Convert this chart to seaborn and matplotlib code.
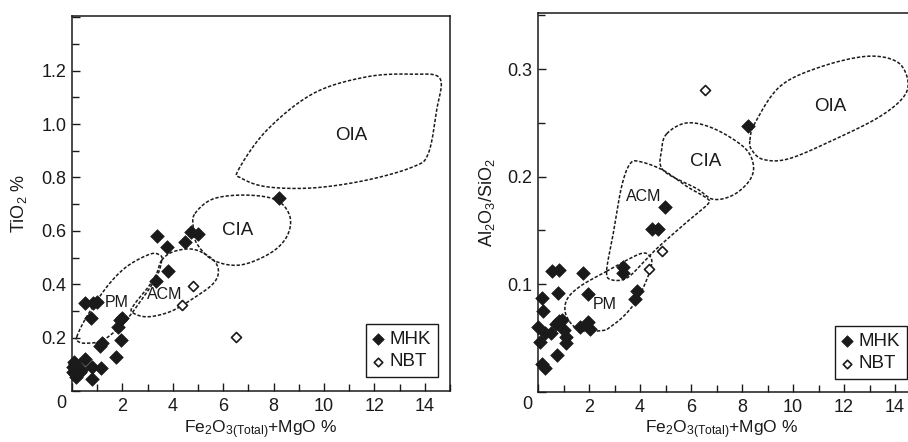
import numpy as np
import pandas as pd
import matplotlib
matplotlib.use("Agg")
import matplotlib.pyplot as plt
from matplotlib.ticker import MultipleLocator, FuncFormatter
import seaborn as sns

# ---------------- data ----------------
# Left panel: TiO2 vs Fe2O3(T)+MgO
left_mhk_x = [3.36, 3.78, 3.82, 3.32, 4.48, 4.72, 4.99, 8.21,
              0.52, 0.85, 0.98, 0.74, 1.18, 1.11, 1.90, 1.97, 1.84, 1.94, 1.73,
              0.52, 0.78, 1.15, 0.78,
              0.09, 0.16, 0.03, 0.22, 0.36, 0.16, 0.05, 0.12, 0.25, 0.30, 0.10]
left_mhk_y = [0.580, 0.540, 0.450, 0.413, 0.557, 0.594, 0.587, 0.722,
              0.331, 0.330, 0.334, 0.275, 0.180, 0.170, 0.266, 0.275, 0.240, 0.192, 0.128,
              0.120, 0.091, 0.086, 0.045,
              0.110, 0.091, 0.072, 0.066, 0.079, 0.054, 0.090, 0.100, 0.085, 0.070, 0.065]
left_nbt_x = [4.81, 4.38, 6.50]
left_nbt_y = [0.394, 0.322, 0.202]

# Right panel: Al2O3/SiO2 vs Fe2O3(T)+MgO
right_mhk_x = [4.98, 4.46, 4.69, 3.32, 3.35, 3.87, 3.82, 8.22,
               0.54, 0.84, 1.75, 0.77, 0.15, 0.21, 1.97, 0.01, 0.27, 0.50, 0.70,
               0.84, 0.93, 1.03, 1.10, 1.10, 1.65, 1.97, 2.04, 0.08, 0.73, 0.15, 0.27]
right_mhk_y = [0.172, 0.151, 0.151, 0.116, 0.110, 0.094, 0.086, 0.247,
               0.112, 0.113, 0.110, 0.092, 0.087, 0.075, 0.091, 0.060, 0.055, 0.055, 0.063,
               0.066, 0.067, 0.057, 0.051, 0.045, 0.060, 0.065, 0.058, 0.046, 0.034, 0.026, 0.022]
right_nbt_x = [4.86, 4.35, 6.55]
right_nbt_y = [0.131, 0.114, 0.281]

# tectonic-setting field outlines (control points of smooth closed curves)
left_oia_x = [6.60, 7.73, 9.58, 11.69, 13.54, 14.60, 14.47, 14.14, 13.54, 11.69, 9.58, 7.73, 6.73]
left_oia_y = [0.828, 0.977, 1.115, 1.177, 1.187, 1.171, 1.052, 0.890, 0.840, 0.790, 0.761, 0.765, 0.797]
left_cia_x = [4.88, 5.61, 6.93, 8.12, 8.65, 8.52, 7.86, 6.67, 5.61, 4.95, 4.81]
left_cia_y = [0.665, 0.720, 0.734, 0.715, 0.653, 0.578, 0.516, 0.472, 0.490, 0.553, 0.615]
left_acm_x = [3.56, 4.02, 4.81, 5.54, 5.81, 5.61, 4.81, 3.89, 2.96, 2.37, 2.50, 3.03, 3.36]
left_acm_y = [0.490, 0.522, 0.531, 0.497, 0.453, 0.403, 0.347, 0.297, 0.278, 0.297, 0.328, 0.390, 0.441]
left_pm_x = [0.19, 0.58, 1.38, 2.17, 3.10, 3.49, 3.56, 3.36, 2.70, 2.04, 1.24, 0.58, 0.25]
left_pm_y = [0.203, 0.278, 0.390, 0.466, 0.513, 0.509, 0.490, 0.428, 0.334, 0.254, 0.191, 0.179, 0.185]

right_oia_x = [8.31, 8.51, 9.49, 11.06, 12.89, 14.07, 14.50, 14.33, 13.41, 11.84, 9.88, 8.84, 8.38]
right_oia_y = [0.234, 0.250, 0.284, 0.302, 0.312, 0.307, 0.290, 0.274, 0.256, 0.237, 0.217, 0.216, 0.225]
right_cia_x = [5.05, 5.83, 6.87, 8.05, 8.44, 8.31, 7.66, 6.87, 6.22, 4.91, 4.85]
right_cia_y = [0.240, 0.250, 0.245, 0.228, 0.212, 0.197, 0.183, 0.179, 0.189, 0.206, 0.225]
right_acm_x = [3.61, 4.00, 4.91, 5.83, 6.62, 6.68, 6.09, 5.31, 4.65, 4.20, 3.50, 2.90, 2.69, 2.95, 3.28]
right_acm_y = [0.212, 0.214, 0.206, 0.191, 0.180, 0.175, 0.163, 0.147, 0.133, 0.122, 0.106, 0.104, 0.112, 0.147, 0.191]
right_pm_x = [2.69, 3.61, 4.13, 4.39, 4.46, 4.26, 3.87, 3.35, 2.82, 2.56, 1.65, 1.12, 1.12, 1.65]
right_pm_y = [0.112, 0.124, 0.129, 0.126, 0.119, 0.104, 0.085, 0.070, 0.060, 0.057, 0.057, 0.070, 0.085, 0.098]

left_labels = [("OIA", 11.1, 0.958, 13.5), ("CIA", 6.59, 0.603, 13.5),
               ("ACM", 3.69, 0.363, 11.5), ("PM", 1.77, 0.331, 11.5)]
right_labels = [("OIA", 11.45, 0.265, 13.5), ("CIA", 6.59, 0.214, 13.5),
                ("ACM", 4.13, 0.182, 11.5), ("PM", 2.63, 0.081, 11.5)]

# ---------------- style ----------------
sns.set_theme(style="ticks")
plt.rcParams["font.family"] = ["Liberation Sans", "DejaVu Sans"]
plt.rcParams["mathtext.fontset"] = "custom"
plt.rcParams["mathtext.rm"] = "Liberation Sans"
plt.rcParams["mathtext.it"] = "Liberation Sans:italic"
plt.rcParams["mathtext.bf"] = "Liberation Sans:bold"
INK = "#1a1a1a"


def smooth_closed(xs, ys, n=40):
    pts = np.column_stack([xs, ys]).astype(float)
    P = np.vstack([pts[-1], pts, pts[0], pts[1]])
    t = np.linspace(0, 1, n, endpoint=False)[:, None]
    segs = []
    for i in range(1, len(pts) + 1):
        p0, p1, p2, p3 = P[i - 1], P[i], P[i + 1], P[i + 2]
        segs.append(0.5 * ((2 * p1) + (-p0 + p2) * t
                           + (2 * p0 - 5 * p1 + 4 * p2 - p3) * t ** 2
                           + (-p0 + 3 * p1 - 3 * p2 + p3) * t ** 3))
    segs.append(segs[0][:1])
    c = np.vstack(segs)
    return c[:, 0], c[:, 1]


FIG_W, FIG_H = 908, 442
fig = plt.figure(figsize=(FIG_W / 100, FIG_H / 100), dpi=100)
L_BOX = (72, 16, 450, 391)       # left, top, right, bottom in pixels
R_BOX = (538, 13.3, 920.5, 391.7)


def add_ax(box):
    l, t, r, b = box
    return fig.add_axes([l / FIG_W, 1 - b / FIG_H, (r - l) / FIG_W, (b - t) / FIG_H])


axL = add_ax(L_BOX)
axR = add_ax(R_BOX)


def draw(ax, box, mx, my, nx, ny, fields, labels, ylim, ymaj, ymin, ymaxlab,
         ylabel, ylab_px, xlab_px, leg_anchor):
    l, t, r, b = box
    dm = pd.DataFrame({"x": mx, "y": my})
    dn = pd.DataFrame({"x": nx, "y": ny})
    for fx, fy in fields:
        cx, cy = smooth_closed(fx, fy)
        ax.plot(cx, cy, ls=(0, (2.2, 1.2)), lw=1.1, color=INK, zorder=1)
    sns.scatterplot(data=dm, x="x", y="y", ax=ax, marker="D", s=48, color=INK,
                    edgecolor=INK, linewidth=0.5, label="MHK", zorder=3,
                    clip_on=False)
    sns.scatterplot(data=dn, x="x", y="y", ax=ax, marker="D", s=26,
                    facecolor="white", edgecolor=INK, linewidth=1.2,
                    label="NBT", zorder=3, clip_on=False)
    for txt, x, y, fs in labels:
        ax.text(x, y, txt, ha="center", va="center", fontsize=fs, color=INK)
    ax.set_xlim(0, 15)
    ax.set_ylim(*ylim)
    ax.xaxis.set_major_locator(MultipleLocator(2))
    ax.xaxis.set_minor_locator(MultipleLocator(1))
    ax.yaxis.set_major_locator(MultipleLocator(ymaj))
    ax.yaxis.set_minor_locator(MultipleLocator(ymin))
    ax.xaxis.set_major_formatter(
        FuncFormatter(lambda v, p: "" if abs(v) < 1e-9 else f"{v:g}"))
    ax.yaxis.set_major_formatter(
        FuncFormatter(lambda v, p: "" if (abs(v) < 1e-9 or v > ymaxlab + 1e-9)
                      else f"{v:.1f}"))
    ax.tick_params(which="major", direction="in", length=6, width=1.0,
                   color=INK, labelsize=13, labelcolor=INK)
    ax.tick_params(which="minor", direction="in", length=5, width=1.0, color=INK)
    ax.tick_params(axis="x", which="major", pad=5)
    ax.tick_params(axis="y", which="major", pad=4)
    ax.tick_params(top=False, right=False, which="both")
    for sp in ax.spines.values():
        sp.set_visible(True)
        sp.set_linewidth(1.1)
        sp.set_color(INK)
    ax.annotate("0", xy=(0, 0), xycoords="axes fraction", xytext=(-4, -3),
                textcoords="offset points", ha="right", va="top",
                fontsize=13, color=INK)
    # x label: baseline placed at pixel row 433
    ax.set_xlabel(r"Fe$_2$O$_{3(\mathrm{Total})}$+MgO %", fontsize=12.5,
                  color=INK)
    ax.xaxis.label.set_va("baseline")
    ax.xaxis.set_label_coords((xlab_px - l) / (r - l), -(433 - b) / (b - t))
    # y label: right edge (rotated text bottom) at ylab_px
    ax.set_ylabel(ylabel, fontsize=13, color=INK)
    ax.yaxis.set_label_coords((ylab_px - l) / (r - l), 0.5)
    leg = ax.legend(loc="lower right", bbox_to_anchor=leg_anchor,
                    bbox_transform=fig.transFigure, frameon=True,
                    fancybox=False, framealpha=1, edgecolor=INK, fontsize=13.5,
                    handlelength=0.6, handletextpad=0.35, labelspacing=0.3,
                    borderpad=0.35, borderaxespad=0, markerscale=0.85)
    leg.get_frame().set_linewidth(1.0)
    for tx in leg.get_texts():
        tx.set_color(INK)


draw(axL, L_BOX, left_mhk_x, left_mhk_y, left_nbt_x, left_nbt_y,
     [(left_oia_x, left_oia_y), (left_cia_x, left_cia_y),
      (left_acm_x, left_acm_y), (left_pm_x, left_pm_y)],
     left_labels, (0, 1.405), 0.2, 0.1, 1.2, r"TiO$_2$ %",
     29, 261, (438 / FIG_W, 1 - 377 / FIG_H))
draw(axR, R_BOX, right_mhk_x, right_mhk_y, right_nbt_x, right_nbt_y,
     [(right_oia_x, right_oia_y), (right_cia_x, right_cia_y),
      (right_acm_x, right_acm_y), (right_pm_x, right_pm_y)],
     right_labels, (0, 0.352), 0.1, 0.05, 0.3, r"Al$_2$O$_3$/SiO$_2$",
     497, 722, (907 / FIG_W, 1 - 379 / FIG_H))

fig.savefig("out.png", dpi=100)
